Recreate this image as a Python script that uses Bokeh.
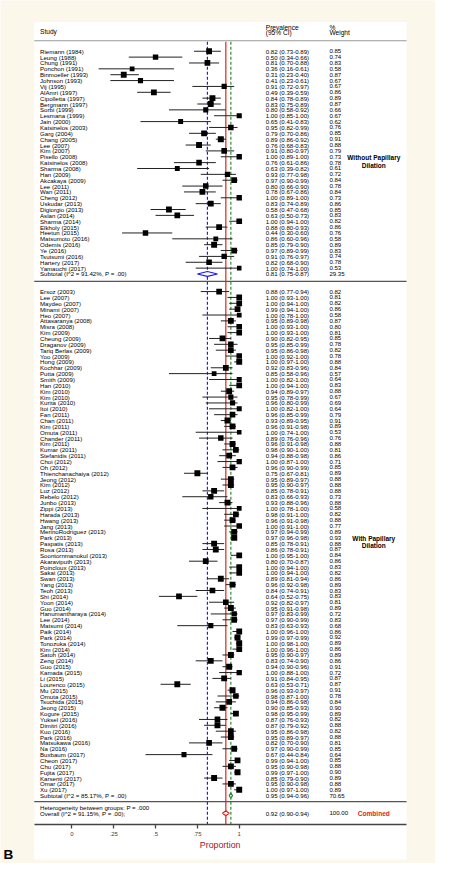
from bokeh.plotting import figure
from bokeh.models import Range1d, LinearAxis, FixedTicker
from bokeh.core.properties import value
from bokeh.embed import file_html
from bokeh.resources import INLINE
import math

# ---------------- data ----------------
g1_study = ["Riemann (1984)", "Leung (1988)", "Chung (1991)", "Ponchon (1991)", "Binmoeller (1993)",
            "Johnson (1993)", "Vij (1995)", "AlAmri (1997)", "Cipolletta (1997)", "Bergmann (1997)",
            "Sorbi (1999)", "Lesmana (1999)", "Jain (2000)", "Katsinelos (2003)", "Garg (2004)",
            "Chang (2005)", "Lee (2007)", "Kim (2007)", "Pisello (2008)", "Katsinelos (2008)",
            "Sharma (2008)", "Han (2009)", "Akcakaya (2009)", "Lee (2011)", "Wan (2011)",
            "Cheng (2012)", "Uskudar (2013)", "Digiorgio (2013)", "Aslan (2014)", "Sharma (2014)",
            "Elkholy (2015)", "Heetun (2015)", "Matsumoto (2016)", "Odemis (2016)", "Ye (2016)",
            "Tsutsumi (2016)", "Hartery (2017)", "Yamauchi (2017)"]
g1_est = [0.82, 0.50, 0.81, 0.36, 0.31, 0.41, 0.91, 0.49, 0.84, 0.83,
          0.80, 1.00, 0.65, 0.95, 0.79, 0.89, 0.76, 0.91, 1.00, 0.76,
          0.63, 0.93, 0.97, 0.80, 0.78, 1.00, 0.83, 0.58, 0.63, 1.00,
          0.88, 0.44, 0.86, 0.85, 0.97, 0.91, 0.82, 1.00]
g1_lo = [0.73, 0.34, 0.70, 0.16, 0.23, 0.23, 0.72, 0.39, 0.78, 0.75,
         0.58, 0.85, 0.41, 0.82, 0.70, 0.86, 0.68, 0.80, 0.89, 0.61,
         0.39, 0.77, 0.90, 0.66, 0.67, 0.89, 0.74, 0.47, 0.50, 0.94,
         0.80, 0.30, 0.60, 0.79, 0.89, 0.76, 0.68, 0.74]
g1_hi = [0.89, 0.66, 0.88, 0.61, 0.40, 0.61, 0.97, 0.59, 0.89, 0.89,
         0.92, 1.00, 0.83, 0.99, 0.86, 0.92, 0.83, 0.97, 1.00, 0.86,
         0.82, 0.98, 0.99, 0.90, 0.86, 1.00, 0.89, 0.68, 0.73, 1.00,
         0.93, 0.60, 0.96, 0.90, 0.99, 0.97, 0.90, 1.00]
g1_wt = [0.85, 0.74, 0.83, 0.58, 0.87, 0.67, 0.67, 0.86, 0.89, 0.87,
         0.66, 0.67, 0.62, 0.76, 0.85, 0.91, 0.88, 0.79, 0.73, 0.78,
         0.61, 0.72, 0.84, 0.78, 0.84, 0.73, 0.86, 0.85, 0.83, 0.82,
         0.86, 0.76, 0.58, 0.89, 0.83, 0.74, 0.78, 0.53]

g2_study = ["Ersoz (2003)", "Lee (2007)", "Maydeo (2007)", "Minami (2007)", "Heo (2007)",
            "Attasaranya (2008)", "Misra (2008)", "Kim (2009)", "Cheung (2009)", "Draganov (2009)",
            "Tariq Berlas (2009)", "Yoo (2009)", "Hong (2009)", "Kochhar (2009)", "Putta (2009)",
            "Smith (2009)", "Han (2010)", "Kim (2010)", "Kim (2010)", "Kurita (2010)",
            "Itoi (2010)", "Fan (2011)", "Chan (2011)", "Kim (2011)", "Omuta (2011)",
            "Chander (2011)", "Kim (2011)", "Kumar (2011)", "Stefanidis (2011)", "Choi (2012)",
            "Oh (2012)", "Thienchanachaiya (2012)", "Jeong (2012)", "Kim (2012)", "Luz (2012)",
            "Rebelo (2012)", "Junbo (2013)", "Zippi (2013)", "Harada (2013)", "Hwang (2013)",
            "Jang (2013)", "MerinoRodriguez (2013)", "Park (2013)", "Paspatis (2013)", "Rosa (2013)",
            "Soontornmanokul (2013)", "Akaraviputh (2013)", "Poincloux (2013)", "Sakai (2013)", "Swan (2013)",
            "Yang (2013)", "Teoh (2013)", "Shi (2014)", "Yoon (2014)", "Guo (2014)",
            "Hanumantharaya (2014)", "Lee (2014)", "Matsumi (2014)", "Paik (2014)", "Park (2014)",
            "Tonozuka (2014)", "Kim (2014)", "Satoh (2014)", "Zeng (2014)", "Guo (2015)",
            "Kamada (2015)", "Li (2015)", "Lourenco (2015)", "Mu (2015)", "Omuta (2015)",
            "Tsuchida (2015)", "Jeong (2015)", "Kogure (2015)", "Yuksel (2016)", "Dimitri (2016)",
            "Kuo (2016)", "Park (2016)", "Matsukawa (2016)", "Na (2016)", "Buxbaum (2017)",
            "Cheon (2017)", "Chu (2017)", "Fujita (2017)", "Karsenti (2017)", "Omar (2017)",
            "Xu (2017)"]
g2_est = [0.88, 1.00, 1.00, 0.99, 1.00, 0.95, 1.00, 1.00, 0.90, 0.95,
          0.95, 1.00, 1.00, 0.92, 0.85, 1.00, 1.00, 0.94, 0.95, 0.96,
          1.00, 0.96, 0.93, 0.96, 1.00, 0.89, 0.96, 0.98, 0.94, 1.00,
          0.96, 0.75, 0.95, 0.95, 0.85, 0.83, 0.93, 1.00, 0.98, 0.96,
          1.00, 0.97, 0.97, 0.85, 0.86, 1.00, 0.80, 1.00, 1.00, 0.89,
          0.96, 0.84, 0.64, 0.92, 0.95, 0.97, 0.97, 0.83, 1.00, 0.99,
          1.00, 1.00, 0.95, 0.83, 0.94, 1.00, 0.91, 0.63, 0.96, 0.98,
          0.94, 0.90, 0.98, 0.87, 0.87, 0.95, 0.95, 0.82, 0.97, 0.67,
          0.99, 0.95, 0.99, 0.85, 0.95, 1.00]
g2_lo = [0.77, 0.93, 0.94, 0.94, 0.78, 0.89, 0.93, 0.93, 0.82, 0.85,
         0.86, 0.92, 0.97, 0.83, 0.58, 0.82, 0.94, 0.89, 0.78, 0.80,
         0.82, 0.85, 0.89, 0.91, 0.74, 0.76, 0.91, 0.90, 0.88, 0.87,
         0.90, 0.67, 0.89, 0.90, 0.78, 0.66, 0.88, 0.78, 0.91, 0.91,
         0.91, 0.94, 0.96, 0.78, 0.78, 0.95, 0.70, 0.94, 0.94, 0.81,
         0.92, 0.74, 0.52, 0.82, 0.91, 0.83, 0.90, 0.63, 0.96, 0.97,
         0.98, 0.96, 0.90, 0.74, 0.90, 0.88, 0.84, 0.53, 0.93, 0.87,
         0.86, 0.85, 0.95, 0.76, 0.79, 0.86, 0.89, 0.70, 0.90, 0.44,
         0.94, 0.90, 0.97, 0.79, 0.90, 0.97]
g2_hi = [0.94, 1.00, 1.00, 1.00, 1.00, 0.98, 1.00, 1.00, 0.95, 0.99,
         0.98, 1.00, 1.00, 0.96, 0.96, 1.00, 1.00, 0.97, 0.99, 0.99,
         1.00, 0.99, 0.95, 0.98, 1.00, 0.96, 0.98, 1.00, 0.98, 1.00,
         0.99, 0.81, 0.97, 0.97, 0.91, 0.93, 0.96, 1.00, 1.00, 0.98,
         1.00, 0.99, 0.98, 0.91, 0.91, 1.00, 0.87, 1.00, 1.00, 0.94,
         0.98, 0.91, 0.75, 0.97, 0.98, 0.99, 0.99, 0.93, 1.00, 0.99,
         1.00, 1.00, 0.97, 0.90, 0.96, 1.00, 0.95, 0.71, 0.97, 1.00,
         0.98, 0.93, 0.99, 0.93, 0.92, 0.98, 0.97, 0.90, 0.99, 0.84,
         1.00, 0.98, 1.00, 0.90, 0.98, 1.00]
g2_wt = [0.82, 0.81, 0.82, 0.86, 0.58, 0.87, 0.80, 0.81, 0.85, 0.78,
         0.82, 0.78, 0.88, 0.84, 0.57, 0.64, 0.83, 0.88, 0.67, 0.69,
         0.64, 0.79, 0.91, 0.89, 0.53, 0.76, 0.88, 0.81, 0.86, 0.71,
         0.85, 0.89, 0.88, 0.88, 0.88, 0.73, 0.88, 0.58, 0.82, 0.88,
         0.77, 0.89, 0.93, 0.88, 0.87, 0.84, 0.86, 0.83, 0.82, 0.86,
         0.89, 0.83, 0.83, 0.81, 0.89, 0.72, 0.83, 0.68, 0.86, 0.92,
         0.89, 0.86, 0.89, 0.86, 0.91, 0.72, 0.87, 0.87, 0.91, 0.78,
         0.84, 0.90, 0.89, 0.82, 0.88, 0.82, 0.88, 0.81, 0.85, 0.64,
         0.85, 0.88, 0.90, 0.89, 0.88, 0.89]

# pooled estimates: (est, lo, hi, weight)
sub1 = (0.81, 0.75, 0.87, 29.35)
sub2 = (0.95, 0.94, 0.96, 70.65)
overall = (0.92, 0.90, 0.94, 100.00)
sub1_label = "Subtotal  (I^2 = 91.42%, P =  .00)"
sub2_label = "Subtotal  (I^2 = 85.17%, P =  .00)"
het_label = "Heterogeneity between groups: P =  .000"
overall_label = "Overall  (I^2 = 91.15%, P =  .00);"
tick_vals = [0, 0.25, 0.5, 0.75, 1]
tick_labels = ["0", ".25", ".5", ".75", "1"]

# ---------------- layout helpers ----------------
W, H = 435, 863
SX = W / 451.0
PX0, PXU = 74.0, 173.5          # pixel of x=0, pixels per unit (reference)
RY0, RYU = 51.7, 5.97           # pixel of row 0, pixels per row (reference)


def xd(px):
    return (px - PX0) / PXU


def yr(py):
    return (py - RY0) / RYU


FONT = value("Liberation Sans")
BG = "#FBF7EA"

p = figure(width=W, height=H, output_backend="svg", toolbar_location=None,
           x_range=Range1d(xd(0), xd(451)), y_range=Range1d(yr(879), yr(0)),
           x_axis_location=None, y_axis_location=None, min_border=0)
p.grid.visible = False
p.outline_line_color = None
p.background_fill_color = BG
p.border_fill_color = BG

XL, XR = xd(35), xd(421)

# white panel
p.quad(left=[XL], right=[XR], bottom=[yr(875)], top=[yr(22)], fill_color="white", line_color=None)

rows1 = list(range(len(g1_study)))
row_sub1 = len(g1_study)
start2 = row_sub1 + 3
rows2 = [start2 + i for i in range(len(g2_study))]
row_sub2 = rows2[-1] + 1
row_het = row_sub2 + 2
row_over = row_sub2 + 3
row_axis = yr(839.7)

# header
def txt(x, y, t, size, color="black", align="left", style="normal"):
    p.text(x=x, y=y, text=t, text_font=FONT, text_font_size=value(size), text_color=color,
           text_align=align, text_baseline="middle", text_font_style=style)

txt([xd(41)], [yr(32)], ["Study"], "6.6px")
txt([xd(275), xd(275)], [yr(27), yr(33)], ["Prevalence", "(95% CI)"], "6.6px")
txt([xd(341), xd(341)], [yr(27), yr(33)], ["%", "Weight"], "6.6px")
p.segment(x0=[XL], x1=[XR], y0=[yr(41)], y1=[yr(41)], line_color="#9a9a9a", line_width=1)

# separators
p.segment(x0=[XL, XL], x1=[XR, XR], y0=[yr(286), yr(816)], y1=[yr(286), yr(816)],
          line_color="#555555", line_width=1.3)

# reference lines
top_ref = yr(42)
p.segment(x0=[sub1[0]], x1=[sub1[0]], y0=[top_ref], y1=[row_axis], line_color="#1a1aff",
          line_width=1.2, line_dash="3 2")
p.segment(x0=[sub2[0]], x1=[sub2[0]], y0=[top_ref], y1=[row_axis], line_color="#2e8b2e",
          line_width=1.2, line_dash="3 2")
p.segment(x0=[overall[0]], x1=[overall[0]], y0=[top_ref], y1=[row_axis], line_color="#e0241e",
          line_width=1.2)

# studies
all_rows = rows1 + rows2
all_est = g1_est + g2_est
all_lo = g1_lo + g2_lo
all_hi = g1_hi + g2_hi
all_wt = g1_wt + g2_wt
all_study = g1_study + g2_study

p.segment(x0=all_lo, x1=all_hi, y0=all_rows, y1=all_rows, line_color="#222222", line_width=1)
sizes = [SX * 6.0 * math.sqrt(w / 0.85) for w in all_wt]
p.scatter(x=all_est, y=all_rows, size=sizes, marker="square", fill_color="black", line_color=None)

fs = "6.1px"
txt([xd(41)] * len(all_rows), all_rows, all_study, fs)
prev_txt = [f"{e:.2f} ({l:.2f}-{h:.2f})" for e, l, h in zip(all_est, all_lo, all_hi)]
txt([xd(275)] * len(all_rows), all_rows, prev_txt, fs)
txt([xd(341)] * len(all_rows), all_rows, [f"{w:.2f}" for w in all_wt], fs)

# pooled rows
pooled = [(row_sub1, sub1, "#1a1aff", sub1_label), (row_sub2, sub2, "#2e8b2e", sub2_label),
          (row_over, overall, "#e0241e", overall_label)]
hh = 0.42
xs = [[lo, e, hi, e] for _, (e, lo, hi, _w), _, _ in pooled]
ys = [[r, r - hh, r, r + hh] for r, _, _, _ in pooled]
p.patches(xs=xs, ys=ys, fill_color="white", line_color=[c for _, _, c, _ in pooled], line_width=1.2)
for r, (e, lo, hi, w), c, lab in pooled:
    txt([xd(41)], [r], [lab], fs)
    txt([xd(275)], [r], [f"{e:.2f} ({lo:.2f}-{hi:.2f})"], fs)
    txt([xd(341)], [r], [f"{w:.2f}"], fs)
txt([xd(41)], [row_het], [het_label], fs)

# group labels
txt([xd(387), xd(387)], [yr(159.7), yr(168)], ["Without Papillary", "Dilation"], "6.5px",
    align="center", style="bold")
txt([xd(387), xd(387)], [yr(547.7), yr(555.5)], ["With Papillary", "Dilation"], "6.5px",
    align="center", style="bold")
txt([xd(387)], [row_over], ["Combined"], "6.6px", color="#e0241e", align="center", style="bold")

# axis
ax = LinearAxis(fixed_location=row_axis, ticker=FixedTicker(ticks=tick_vals),
                major_label_overrides={t: l for t, l in zip(tick_vals, tick_labels)},
                bounds=(XL, XR))
ax.major_tick_in = 0
ax.major_tick_out = 4
ax.minor_tick_line_color = None
ax.axis_line_color = "#444444"
ax.axis_line_width = 1.5
ax.major_tick_line_color = "#444444"
ax.major_tick_line_width = 1.3
ax.major_label_text_font = "Liberation Sans"
ax.major_label_text_font_size = "6px"
ax.major_label_standoff = 3
p.add_layout(ax, "below")

txt([xd(227.7)], [yr(860)], ["Proportion"], "8.8px", color="#a3152c", align="center")
txt([xd(3)], [yr(870)], ["B"], "13.5px", style="bold")

open("out.html", "w").write(file_html(p, INLINE))
